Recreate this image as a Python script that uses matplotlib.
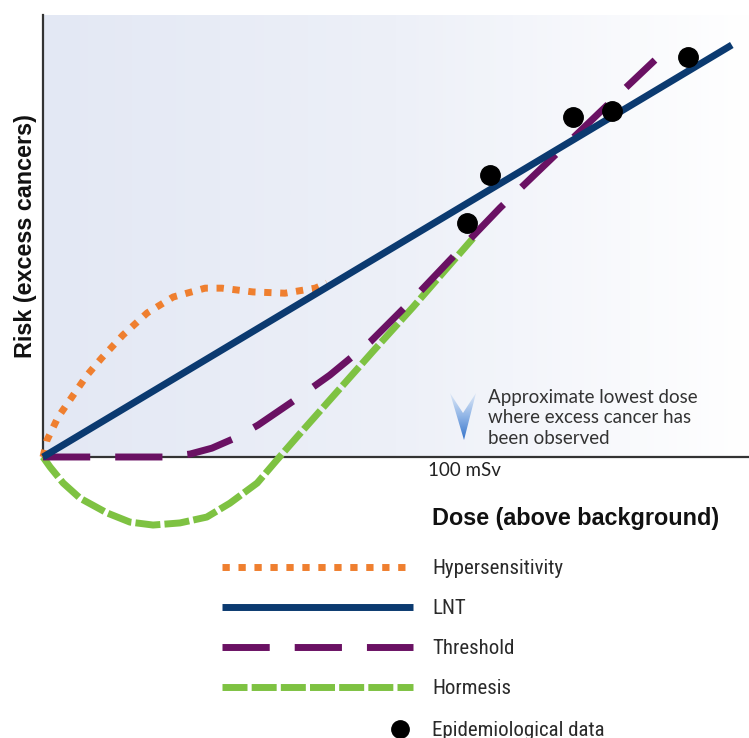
import numpy as np
import matplotlib
matplotlib.use("Agg")
import matplotlib.pyplot as plt
from matplotlib.patches import Polygon
from matplotlib.colors import LinearSegmentedColormap
from matplotlib import font_manager

# ---------------- data (dose in mSv-like units, risk in arbitrary units) -------------
lnt_dose = [0.0, 164.0]
lnt_risk = [0.0, 98.1]

hyper_dose = [0.0, 0.95, 3.6, 6.9, 10.5, 14.0, 19.0, 24.8, 31.0, 38.6, 42.6, 50.0, 57.6, 64.8, 67.6]
hyper_risk = [0.0, 4.0, 9.5, 14.3, 19.5, 23.6, 29.0, 34.3, 38.1, 40.2, 40.2, 39.3, 39.0, 40.2, 41.4]

thresh_dose = [0.0, 29.0, 35.0, 40.2, 45.7, 51.2, 60.0, 68.3, 77.9, 87.4, 96.9, 108.8, 120.7, 132.6, 145.7]
thresh_risk = [0.0, 0.0, 0.7, 2.1, 4.5, 7.6, 13.6, 19.5, 27.4, 36.9, 46.9, 59.3, 70.7, 82.1, 94.5]

horm_dose = [0.0, 1.7, 4.8, 8.8, 15.2, 20.7, 26.2, 32.6, 39.0, 44.5, 51.0, 55.7, 60.5, 68.3, 78.6, 88.1, 102.4]
horm_risk = [0.0, -2.4, -6.2, -9.8, -13.3, -15.5, -16.2, -15.7, -14.3, -11.0, -6.2, -0.7, 4.8, 13.6, 25.2, 35.7, 52.1]

epi_dose = [101.0, 106.4, 126.2, 135.5, 153.6]
epi_risk = [55.7, 67.1, 81.0, 82.4, 95.2]

legend_labels = ["Hypersensitivity", "LNT", "Threshold", "Hormesis", "Epidemiological data"]
x_label = "Dose (above background)"
y_label = "Risk (excess cancers)"
tick_label = "100 mSv"
note_lines = ["Approximate lowest dose", "where excess cancer has", "been observed"]

# ---------------- styles --------------------------------------------------------------
C_ORANGE = "#ef7f2f"
C_NAVY = "#0b3a70"
C_PURPLE = "#6a1163"
C_GREEN = "#7ec242"
LW = 5.0
st_hyper = dict(color=C_ORANGE, lw=LW, dashes=(1.05, 1.25), dash_capstyle="butt")
st_lnt = dict(color=C_NAVY, lw=LW, solid_capstyle="butt")
st_thr = dict(color=C_PURPLE, lw=LW, dashes=(6.8, 3.6), dash_capstyle="butt")
st_hor = dict(color=C_GREEN, lw=LW, dashes=(3.6, 0.6), dash_capstyle="butt")

# pick a condensed font for the legend if one is installed
available = {f.name for f in font_manager.fontManager.ttflist}
leg_family = None
for cand in ["Liberation Sans Narrow", "DejaVu Sans Condensed", "Roboto Condensed", "Roboto"]:
    if cand in available:
        leg_family = cand
        break
if leg_family is None:
    leg_family = "DejaVu Sans"

W, H = 749, 738
fig = plt.figure(figsize=(W / 100, H / 100), dpi=100)
fig.patch.set_facecolor("white")

def fx(px):
    return px / W

def fy(py):
    return 1 - py / H

# main axes: origin at pixel (43, 457), top at y=15, right edge at 749
ax = fig.add_axes([fx(43), fy(457), 1 - fx(43), (457 - 15) / H])
XMAX, YMAX = (749 - 43) / 4.2, (457 - 15) / 4.2
ax.set_xlim(0, XMAX)
ax.set_ylim(0, YMAX)

# background gradient
grad = np.linspace(0, 1, 256).reshape(1, -1)
cmap_bg = LinearSegmentedColormap.from_list("bg", ["#e3e8f4", "#edf0f8", "#ffffff"])
ax.imshow(grad, extent=(0, XMAX, 0, YMAX), aspect="auto", cmap=cmap_bg, zorder=0,
          interpolation="bicubic")

for s in ["top", "right"]:
    ax.spines[s].set_visible(False)
for s in ["left", "bottom"]:
    ax.spines[s].set_color("#333333")
    ax.spines[s].set_linewidth(1.6)
ax.set_xticks([])
ax.set_yticks([])

ax.plot(horm_dose, horm_risk, clip_on=False, zorder=3, **st_hor)
ax.plot(thresh_dose, thresh_risk, clip_on=False, zorder=4, **st_thr)
ax.plot(hyper_dose, hyper_risk, clip_on=False, zorder=5, **st_hyper)
ax.plot(lnt_dose, lnt_risk, clip_on=False, zorder=6, **st_lnt)
ax.plot(epi_dose, epi_risk, "o", color="black", ms=14, clip_on=False, zorder=7)

# overlay axes in pixel coordinates for legend and annotations
lax = fig.add_axes([0, 0, 1, 1])
lax.set_xlim(0, W)
lax.set_ylim(H, 0)
lax.axis("off")

# arrow (chevron with gradient)
poly = Polygon([(450, 393), (463, 413), (476, 393), (464, 440)], closed=True,
               facecolor="none", edgecolor="none")
lax.add_patch(poly)
cmap_ar = LinearSegmentedColormap.from_list("ar", ["#e4ecf8", "#8fb4e6", "#2f6fc8"])
im = lax.imshow(np.linspace(0, 1, 64).reshape(-1, 1), extent=(448, 478, 442, 391),
                cmap=cmap_ar, aspect="auto", zorder=5)
im.set_clip_path(poly)

note_font = ["Lato", "DejaVu Sans"]
for i, t in enumerate(note_lines):
    lax.text(488, 397 + i * 20.5, t, fontsize=13.5, family=note_font, color="#333333",
             ha="left", va="center")

lax.text(464, 470, tick_label, fontsize=13.5, family=note_font, color="#222222",
         ha="center", va="center")

bold_font = ["Liberation Sans", "DejaVu Sans"]
lax.text(576, 519, x_label, fontsize=16.8, family=bold_font, weight="bold",
         color="#111111", ha="center", va="center")
lax.text(26, 236, y_label, fontsize=16.8, family=bold_font, weight="bold",
         color="#111111", ha="center", va="center", rotation=90)

# legend
rows_y = [567, 607, 647, 687, 729]
styles = [st_hyper, st_lnt, st_thr, st_hor]
for yy, st in zip(rows_y[:4], styles):
    lax.plot([222, 413], [yy, yy], **st)
lax.plot([400], [rows_y[4]], "o", color="black", ms=12.5)
if leg_family in ("Liberation Sans Narrow", "DejaVu Sans Condensed"):
    leg_size = 14.5
elif leg_family == "Roboto Condensed":
    leg_size = 15
else:
    leg_size = 13.5
for yy, lab in zip(rows_y, legend_labels):
    lax.text(432, yy + 1, lab, fontsize=leg_size, family=[leg_family, "DejaVu Sans"],
             color="#2a2a2a", ha="left", va="center")

fig.savefig("out.png", dpi=100, facecolor="white")
